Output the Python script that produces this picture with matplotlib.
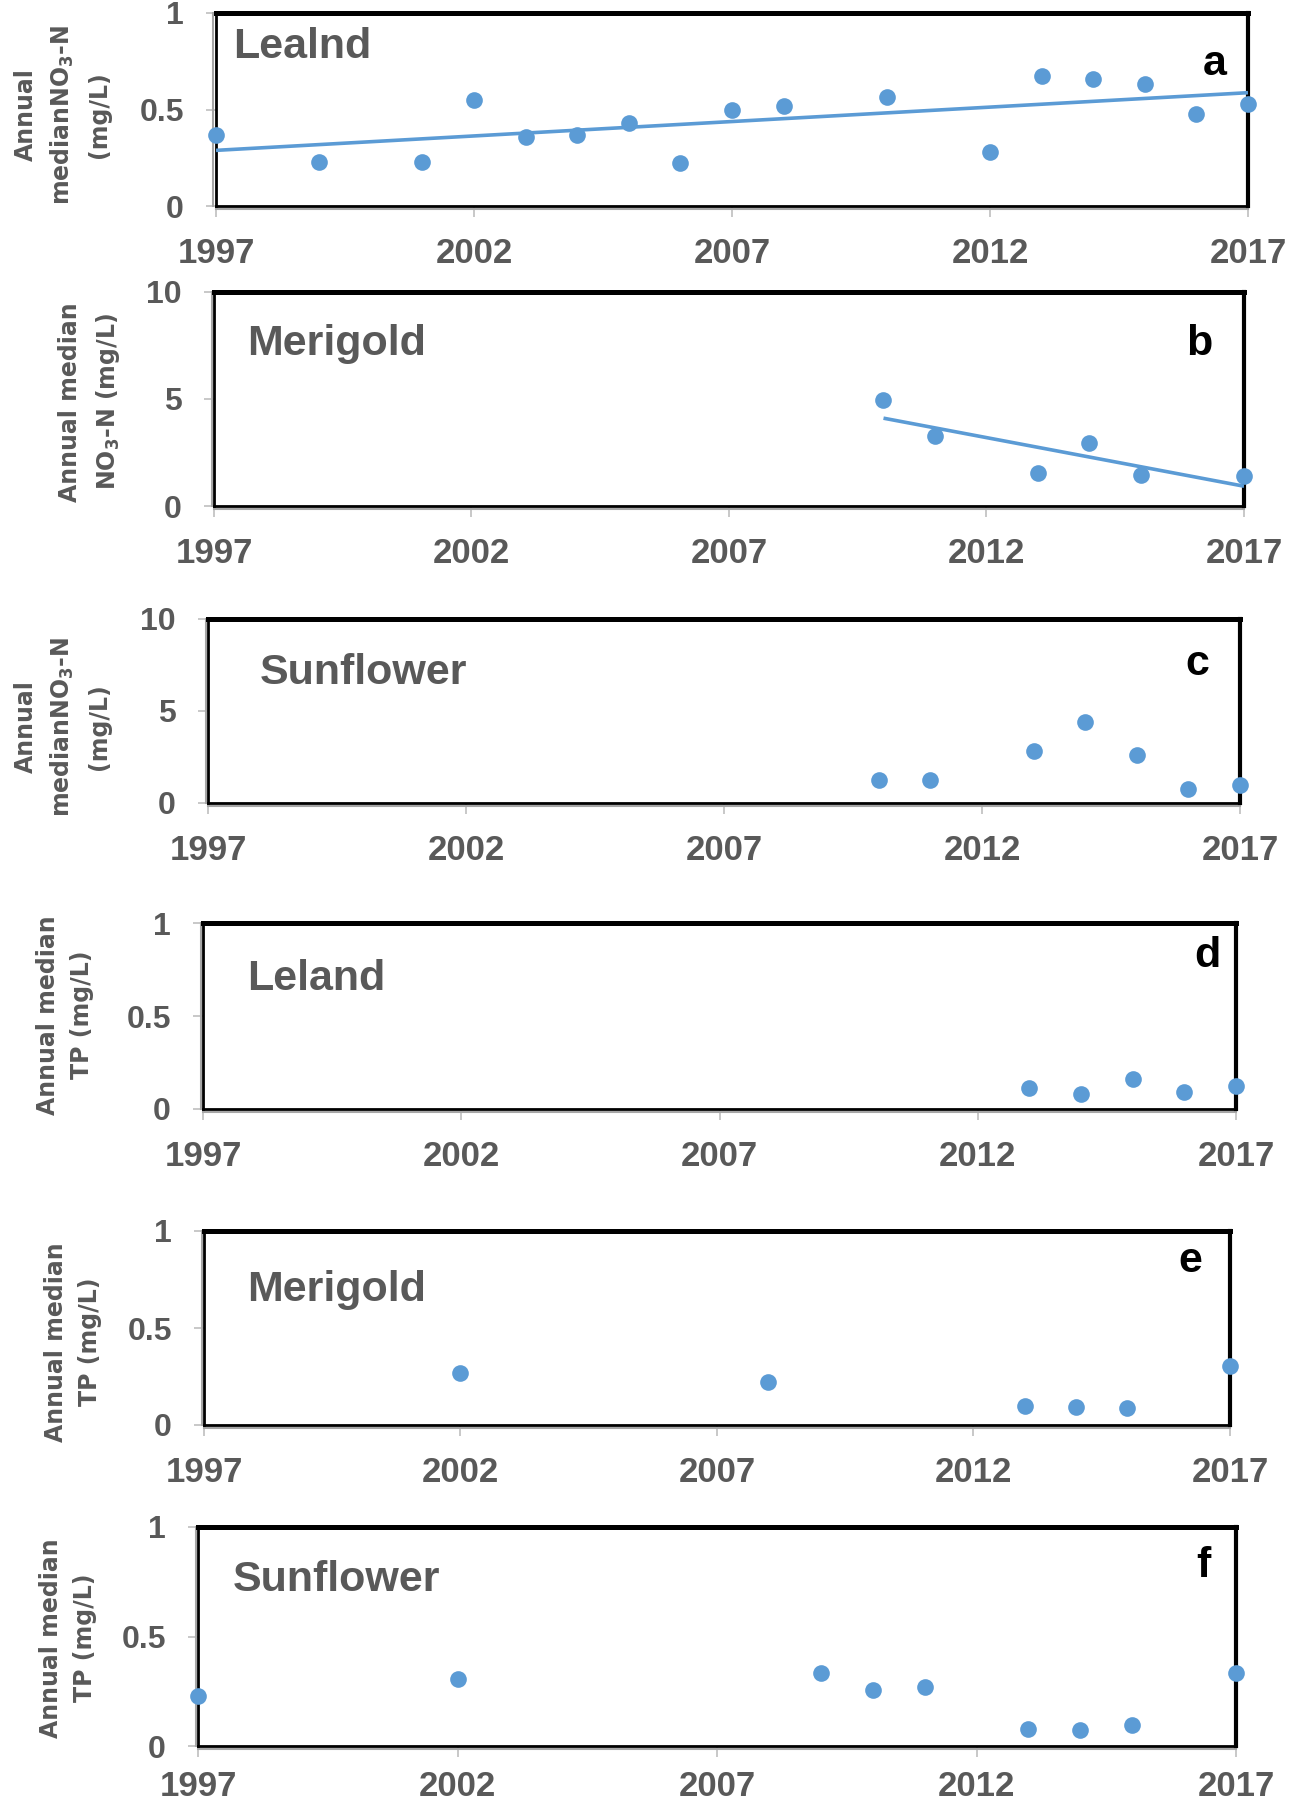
import numpy as np
import matplotlib
matplotlib.use("Agg")
import matplotlib.pyplot as plt
from matplotlib import transforms
from matplotlib.lines import Line2D

plt.rcParams['mathtext.default'] = 'bf'

# ---------------- data ----------------
xticks = [1997, 2002, 2007, 2012, 2017]

a_years = [1997, 1999, 2001, 2002, 2003, 2004, 2005, 2006, 2007, 2008, 2010, 2012, 2013, 2014, 2015, 2016, 2017]
a_vals = [0.368, 0.230, 0.230, 0.550, 0.356, 0.368, 0.429, 0.225, 0.498, 0.519, 0.567, 0.282, 0.675, 0.657, 0.631, 0.476, 0.529]

b_years = [2010, 2011, 2013, 2014, 2015, 2017]
b_vals = [4.94, 3.27, 1.56, 2.94, 1.43, 1.40]

c_years = [2010, 2011, 2013, 2014, 2015, 2016, 2017]
c_vals = [1.23, 1.23, 2.84, 4.38, 2.62, 0.78, 0.99]

d_years = [2013, 2014, 2015, 2016, 2017]
d_vals = [0.111, 0.079, 0.162, 0.093, 0.126]

e_years = [2002, 2008, 2013, 2014, 2015, 2017]
e_vals = [0.266, 0.220, 0.099, 0.091, 0.086, 0.305]

f_years = [1997, 2002, 2009, 2010, 2011, 2013, 2014, 2015, 2017]
f_vals = [0.228, 0.307, 0.335, 0.257, 0.269, 0.079, 0.075, 0.097, 0.335]

stations = ["Lealnd", "Merigold", "Sunflower", "Leland", "Merigold", "Sunflower"]
letters = ["a", "b", "c", "d", "e", "f"]
ylabels = ["Annual\nmedianNO$_3$-N\n(mg/L)",
           "Annual median\nNO$_3$-N (mg/L)",
           "Annual\nmedianNO$_3$-N\n(mg/L)",
           "Annual median\nTP (mg/L)",
           "Annual median\nTP (mg/L)",
           "Annual median\nTP (mg/L)"]
yticks_list = [[0, 0.5, 1], [0, 5, 10], [0, 5, 10], [0, 0.5, 1], [0, 0.5, 1], [0, 0.5, 1]]
yticklabels_list = [["0", "0.5", "1"], ["0", "5", "10"], ["0", "5", "10"],
                    ["0", "0.5", "1"], ["0", "0.5", "1"], ["0", "0.5", "1"]]
trend = [True, True, False, False, False, False]

series = [(a_years, a_vals), (b_years, b_vals), (c_years, c_vals),
          (d_years, d_vals), (e_years, e_vals), (f_years, f_vals)]

# ---------------- layout (pixels) ----------------
W, H = 1292, 1800
boxes = [(216, 13, 1248, 206), (214, 292, 1244, 506), (208, 619, 1240, 803),
         (203, 923, 1236, 1109), (204, 1231, 1230, 1425), (198, 1527, 1236, 1746)]
station_pos = [(233, 47), (247, 344), (260, 673), (247, 979), (247, 1290), (233, 1580)]
letter_pos = [(1215, 64), (1199, 344), (1197, 664), (1207, 956), (1190, 1261), (1203, 1566)]
ylabel_pos = [(62, 115), (90, 402), (62, 727), (65, 1015), (73, 1342), (68, 1638)]
xpads = [14, 14, 14, 14, 14, 9]

blue = "#5B9BD5"
gray_txt = "#595959"
tick_gray = "#BFBFBF"
main_font = ["Liberation Sans", "DejaVu Sans"]

fig = plt.figure(figsize=(W / 100, H / 100), dpi=100)

def fx(x):
    return x / W

def fy(y):
    return 1 - y / H

for i in range(6):
    l, t, r, b = boxes[i]
    ax = fig.add_axes([fx(l), fy(b), (r - l) / W, (b - t) / H])
    yrs, vals = series[i]
    ax.plot(yrs, vals, 'o', color=blue, markersize=12, markeredgewidth=0,
            clip_on=False, zorder=5)
    if trend[i]:
        coef = np.polyfit(yrs, vals, 1)
        xs = np.array([min(yrs), max(yrs)])
        ax.plot(xs, np.polyval(coef, xs), '-', color=blue, lw=2.6, zorder=4,
                solid_capstyle='butt')
    ax.set_xlim(1997, 2017)
    ax.set_ylim(yticks_list[i][0], yticks_list[i][-1])
    ax.set_xticks(xticks)
    ax.set_xticklabels([str(v) for v in xticks])
    ax.set_yticks(yticks_list[i])
    ax.set_yticklabels(yticklabels_list[i])
    for lab in ax.get_xticklabels():
        lab.set_fontfamily(main_font)
        lab.set_fontweight('bold')
        lab.set_fontsize(25)
        lab.set_color(gray_txt)
    for lab in ax.get_yticklabels():
        lab.set_fontfamily(main_font)
        lab.set_fontweight('bold')
        lab.set_fontsize(23)
        lab.set_color(gray_txt)
    ax.tick_params(axis='x', direction='out', length=8, width=1.2, color=tick_gray, pad=xpads[i])
    ax.tick_params(axis='y', direction='out', length=7, width=1.2, color=tick_gray, pad=16)
    for side, lw in (('top', 3.6), ('right', 3.0), ('left', 2.0), ('bottom', 2.0)):
        ax.spines[side].set_color('black')
        ax.spines[side].set_linewidth(lw)
    # gray axis lines just outside the black frame (left and bottom)
    tb = transforms.offset_copy(ax.transAxes, fig=fig, x=0, y=-2.5, units='dots')
    tl = transforms.offset_copy(ax.transAxes, fig=fig, x=-2.5, y=0, units='dots')
    ax.add_line(Line2D([0, 1], [0, 0], transform=tb, color='#A6A6A6', lw=1.5, clip_on=False))
    ax.add_line(Line2D([0, 0], [0, 1], transform=tl, color='#A6A6A6', lw=1.5, clip_on=False))

    sx, sy = station_pos[i]
    fig.text(fx(sx), fy(sy), stations[i], ha='left', va='center', fontsize=31,
             fontweight='bold', color=gray_txt, family=main_font)
    lx, ly = letter_pos[i]
    fig.text(fx(lx), fy(ly), letters[i], ha='center', va='center', fontsize=31,
             fontweight='bold', color='black', family=main_font)
    yx, yy = ylabel_pos[i]
    fig.text(fx(yx), fy(yy), ylabels[i], rotation=90, ha='center', va='center',
             multialignment='center', fontsize=17, fontweight='bold',
             color=gray_txt, family=["DejaVu Sans"], linespacing=1.55)

fig.savefig("out.png", dpi=100)
